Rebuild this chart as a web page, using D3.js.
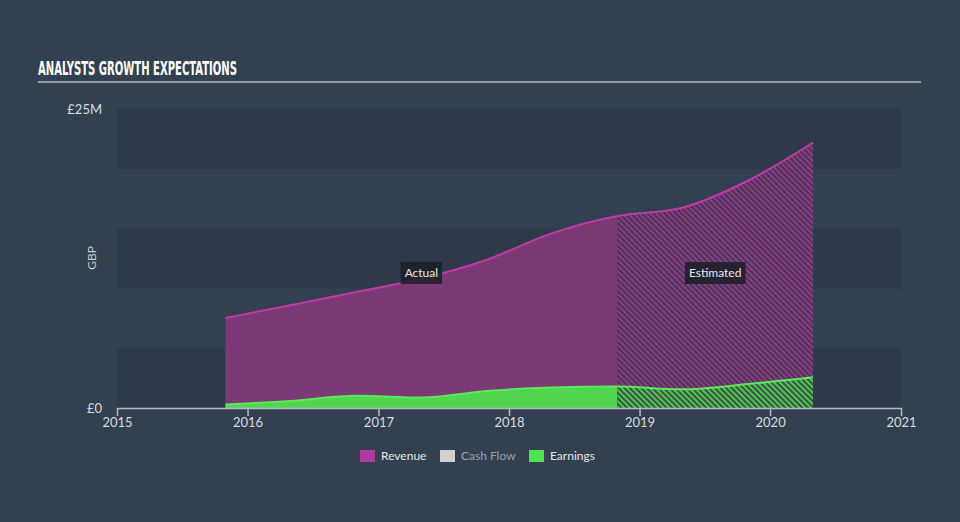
<!DOCTYPE html>
<html>
<head>
<meta charset="utf-8">
<script src="https://cdn.jsdelivr.net/npm/d3@7"></script>
<style>
html,body{margin:0;padding:0;background:#334050;}
svg{display:block;}
</style>
</head>
<body>
<svg id="chart" width="960" height="522"></svg>
<script>
// ---- data ----
const dates = ["2015-10-31","2016-04-30","2016-10-31","2017-04-30","2017-10-31","2018-04-30","2018-10-31","2019-04-30","2019-10-31","2020-04-30"];
const revenue = [7.53e6, 8.6e6, 9.7e6, 10.8e6, 12.4e6, 14.6e6, 16.05e6, 16.75e6, 19.0e6, 22.2e6];
const earnings = [0.29e6, 0.59e6, 1.02e6, 0.88e6, 1.42e6, 1.71e6, 1.80e6, 1.56e6, 2.0e6, 2.57e6];
const estimateStart = "2018-10-31";
const xTickYears = [2015, 2016, 2017, 2018, 2019, 2020, 2021];
const yTickValues = [0, 25e6];
const yTickLabels = ["£0", "£25M"];
const legendItems = ["Revenue", "Cash Flow", "Earnings"];
const title = "ANALYSTS GROWTH EXPECTATIONS";

// ---- setup ----
const svg = d3.select("#chart");
const W = 960, H = 522;
const parse = d3.timeParse("%Y-%m-%d");
const data = dates.map((d, i) => ({date: parse(d), rev: revenue[i], earn: earnings[i]}));
const split = parse(estimateStart);

const x = d3.scaleTime().domain([new Date(2015,0,1), new Date(2021,0,1)]).range([117, 901]);
const y = d3.scaleLinear().domain([0, 25e6]).range([408, 109]);

const font = "Lato, 'Open Sans', sans-serif";
const colRevFill = "#7b3a75", colRevLine = "#c03aa6";
const colEarnFill = "#50d550", colEarnLine = "#5ee85a";

svg.append("rect").attr("width", W).attr("height", H).attr("fill", "#334050");

// bands
const bandStops = d3.range(0, 25e6, 5e6);
svg.append("g").selectAll("rect").data(bandStops).join("rect")
  .attr("x", x.range()[0]).attr("width", x.range()[1] - x.range()[0])
  .attr("y", d => y(d + 5e6)).attr("height", d => y(d) - y(d + 5e6))
  .attr("fill", (d, i) => i % 2 === 0 ? "#2e3a49" : "#324051");

// title
svg.append("text").attr("x", 38).attr("y", 75).text(title)
  .attr("font-family", "'DejaVu Sans Condensed', 'DejaVu Sans', sans-serif")
  .attr("font-weight", "bold").attr("font-size", 19).attr("fill", "#ffffff")
  .attr("textLength", 199).attr("lengthAdjust", "spacingAndGlyphs");
svg.append("line").attr("x1", 38).attr("x2", 921).attr("y1", 82).attr("y2", 82)
  .attr("stroke", "#b4bac2").attr("stroke-width", 1.5);

// patterns
const defs = svg.append("defs");
function hatch(id, bg, line) {
  const p = defs.append("pattern").attr("id", id).attr("patternUnits", "userSpaceOnUse")
    .attr("width", 4).attr("height", 4).attr("patternTransform", "rotate(-45)");
  p.append("rect").attr("width", 4).attr("height", 4).attr("fill", bg);
  p.append("rect").attr("width", 2).attr("height", 4).attr("fill", line);
}
hatch("hatchRev", "#4a3556", "#8c3c84");
hatch("hatchEarn", "#3a5648", "#52c452");

const splitX = x(split);
defs.append("clipPath").attr("id", "clipA").append("rect")
  .attr("x", 0).attr("y", 0).attr("width", splitX).attr("height", H);
defs.append("clipPath").attr("id", "clipE").append("rect")
  .attr("x", splitX).attr("y", 0).attr("width", W - splitX).attr("height", H);

const curve = d3.curveMonotoneX;
const areaRev = d3.area().x(d => x(d.date)).y0(d => y(d.earn)).y1(d => y(d.rev)).curve(curve);
const areaEarn = d3.area().x(d => x(d.date)).y0(y(0)).y1(d => y(d.earn)).curve(curve);
const lineRev = d3.line().x(d => x(d.date)).y(d => y(d.rev)).curve(curve);
const lineEarn = d3.line().x(d => x(d.date)).y(d => y(d.earn)).curve(curve);

const gA = svg.append("g").attr("clip-path", "url(#clipA)");
gA.append("path").datum(data).attr("d", areaRev).attr("fill", colRevFill);
gA.append("path").datum(data).attr("d", areaEarn).attr("fill", colEarnFill);
const gE = svg.append("g").attr("clip-path", "url(#clipE)");
gE.append("path").datum(data).attr("d", areaRev).attr("fill", "url(#hatchRev)");
gE.append("path").datum(data).attr("d", areaEarn).attr("fill", "url(#hatchEarn)");

svg.append("path").datum(data).attr("d", lineRev).attr("fill", "none")
  .attr("stroke", colRevLine).attr("stroke-width", 2);
svg.append("path").datum(data).attr("d", lineEarn).attr("fill", "none")
  .attr("stroke", colEarnLine).attr("stroke-width", 2);

// x axis
const xAxis = d3.axisBottom(x)
  .tickValues(xTickYears.map(yr => new Date(yr, 0, 1)))
  .tickFormat(d3.timeFormat("%Y")).tickSize(8).tickSizeOuter(0);
const gx = svg.append("g").attr("transform", `translate(0,${y(0)})`).call(xAxis);
gx.select(".domain").attr("stroke", "#b4bac2").attr("stroke-width", 1.5);
gx.selectAll(".tick line").attr("stroke", "#b4bac2").attr("stroke-width", 1.5);
gx.selectAll(".tick text").attr("fill", "#d8dce0").attr("font-family", font)
  .attr("font-size", 13).attr("y", 10).attr("dy", "0.71em");

// y labels
svg.append("g").selectAll("text").data(yTickValues).join("text")
  .attr("x", 102).attr("y", d => y(d)).attr("dy", "0.35em").attr("text-anchor", "end")
  .attr("font-family", font).attr("font-size", 13).attr("fill", "#d8dce0")
  .text((d, i) => yTickLabels[i]);
svg.append("text").attr("transform", "translate(96,258) rotate(-90)")
  .attr("text-anchor", "middle").attr("font-family", font).attr("font-size", 12)
  .attr("fill", "#c8ccd2").text("GBP");

// Actual / Estimated labels
const first = data[0].date, last = data[data.length - 1].date;
const labels = [
  {t: "Actual", cx: (x(first) + splitX) / 2},
  {t: "Estimated", cx: (splitX + x(last)) / 2}
];
labels.forEach(l => {
  const g = svg.append("g");
  const txt = g.append("text").attr("x", l.cx).attr("y", 273).attr("dy", "0.35em")
    .attr("text-anchor", "middle").attr("font-family", font).attr("font-size", 12)
    .attr("fill", "#e8e8e8").text(l.t);
  const bb = txt.node().getBBox();
  g.insert("rect", "text").attr("x", bb.x - 4).attr("y", 262)
    .attr("width", bb.width + 8).attr("height", 22).attr("fill", "#1a1f26").attr("opacity", 0.85);
});

// legend
const legendColors = ["#b03a9c", "#d0d0d0", "#50e050"];
const legendX = [360, 440, 529];
const lg = svg.append("g");
legendItems.forEach((name, i) => {
  lg.append("rect").attr("x", legendX[i]).attr("y", 450).attr("width", 15).attr("height", 12)
    .attr("fill", legendColors[i]);
  lg.append("text").attr("x", legendX[i] + 21).attr("y", 456).attr("dy", "0.35em")
    .attr("font-family", font).attr("font-size", 12)
    .attr("fill", name === "Cash Flow" ? "#9aa0a8" : "#e4e6ea").text(name);
});
</script>
</body>
</html>
